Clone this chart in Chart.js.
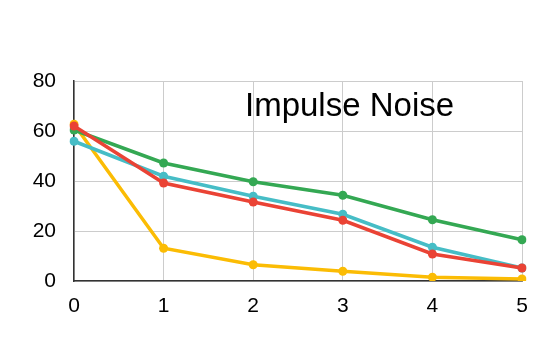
<!DOCTYPE html>
<html>
<head>
<meta charset="utf-8">
<script src="https://cdn.jsdelivr.net/npm/chart.js@4"></script>
<style>
    html, body { margin: 0; padding: 0; background: #ffffff; }
    #wrap { width: 546px; height: 338px; }
</style>
</head>
<body>
<div id="wrap"><canvas id="noiseChart"></canvas></div>
<script>
const categories = ["0", "1", "2", "3", "4", "5"];
const redValues = [62.0, 39.2, 31.6, 24.3, 10.8, 5.2];
const greenValues = [60.4, 47.2, 39.7, 34.3, 24.5, 16.5];
const cyanValues = [55.9, 41.9, 33.9, 26.7, 13.5, 5.2];
const yellowValues = [62.7, 13.1, 6.5, 3.9, 1.5, 0.8];
const yTicks = [0, 20, 40, 60, 80];
const chartTitle = "Impulse Noise";

const fontFamily = "'Liberation Sans', Arial, sans-serif";

const titleInsidePlugin = {
    id: "titleInside",
    afterDraw: function (chart) {
        const ctx = chart.ctx;
        const area = chart.chartArea;
        ctx.save();
        ctx.fillStyle = "#000000";
        ctx.font = "33px " + fontFamily;
        ctx.textAlign = "left";
        ctx.textBaseline = "middle";
        ctx.fillText(chartTitle, area.left + 171, area.top + 26);
        ctx.restore();
    }
};

function makeSet(values, color) {
    return {
        data: values,
        borderColor: color,
        backgroundColor: color,
        borderWidth: 3.5,
        pointRadius: 4.5,
        pointHoverRadius: 4.5,
        pointBorderWidth: 0,
        tension: 0,
        fill: false
    };
}

new Chart(document.getElementById("noiseChart"), {
    type: "line",
    plugins: [titleInsidePlugin],
    data: {
        labels: categories,
        datasets: [
            makeSet(redValues, "#ea4335"),
            makeSet(greenValues, "#34a853"),
            makeSet(cyanValues, "#46bdc6"),
            makeSet(yellowValues, "#fbbc04")
        ]
    },
    options: {
        responsive: true,
        maintainAspectRatio: false,
        animation: false,
        layout: {
            padding: { top: 81, right: 24, bottom: 0, left: 0 }
        },
        plugins: {
            legend: { display: false },
            tooltip: { enabled: false }
        },
        scales: {
            x: {
                offset: false,
                afterFit: function (scale) { scale.height = 57; },
                ticks: {
                    color: "#000000",
                    padding: 13,
                    maxRotation: 0,
                    font: { family: fontFamily, size: 21 }
                },
                grid: { color: "#cccccc", tickLength: 0 },
                border: { color: "#333333", width: 1.5 }
            },
            y: {
                min: 0,
                max: 80,
                afterFit: function (scale) { scale.width = 74; },
                afterBuildTicks: function (scale) {
                    scale.ticks = yTicks.map(function (v) { return { value: v }; });
                },
                ticks: {
                    color: "#000000",
                    padding: 18,
                    font: { family: fontFamily, size: 21 }
                },
                grid: { color: "#cccccc", tickLength: 0 },
                border: { color: "#333333", width: 1.5 }
            }
        }
    }
});
</script>
</body>
</html>
